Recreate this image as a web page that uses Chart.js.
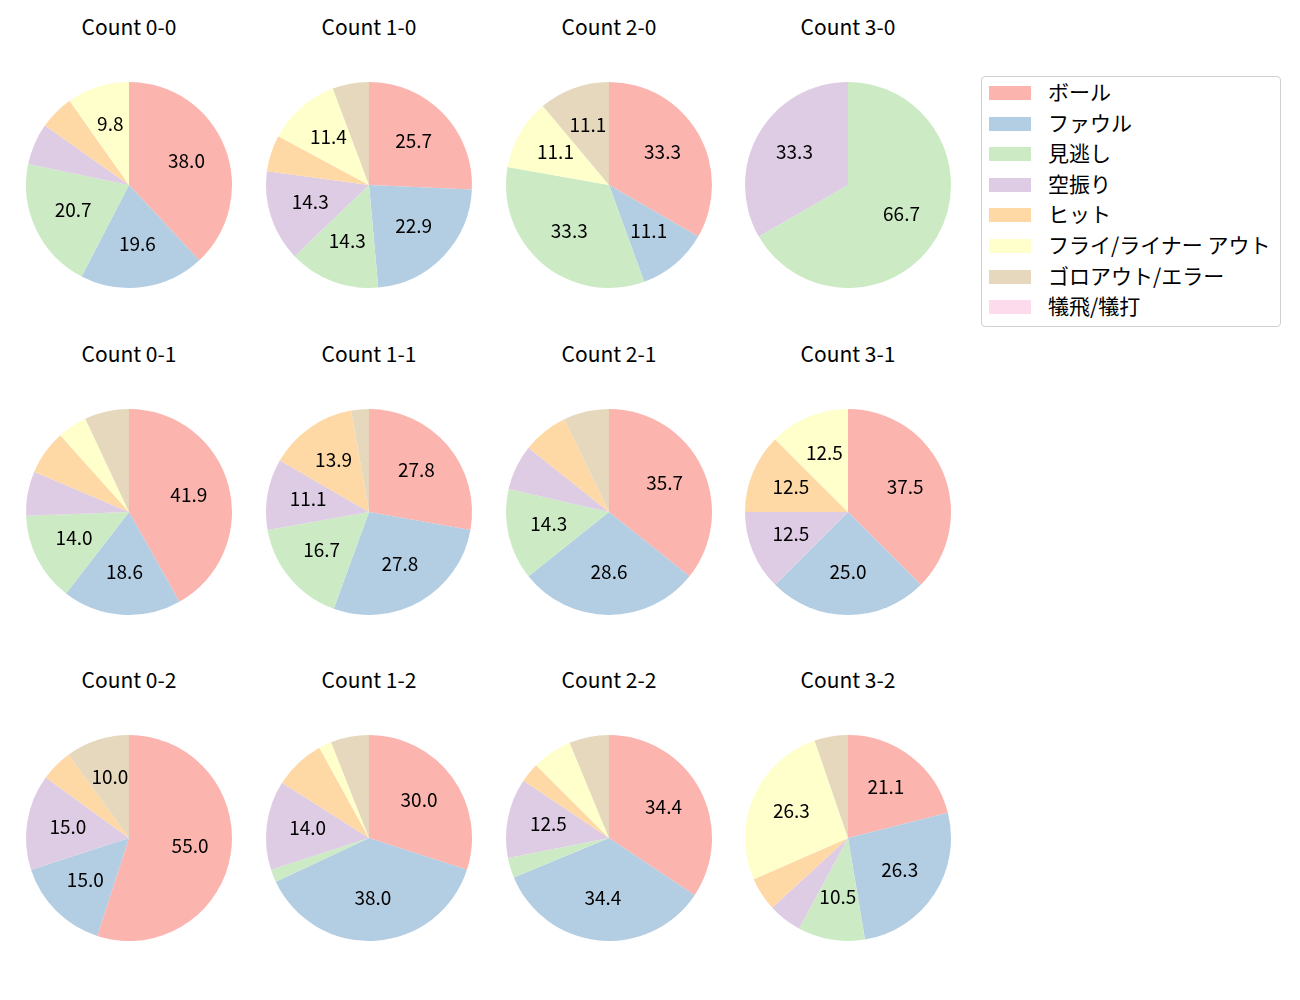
<!DOCTYPE html>
<html>
<head>
<meta charset="utf-8">
<script src="https://cdn.jsdelivr.net/npm/chart.js@4.4.1/dist/chart.umd.min.js"></script>
<style>
  body { margin: 0; background: #fff; font-family: "Noto Sans CJK JP", "DejaVu Sans", sans-serif; }
  #stage { position: relative; width: 1300px; height: 1000px; }
  .pie { position: absolute; width: 220px; height: 220px; }
  .title { position: absolute; width: 240px; text-align: center; font-size: 21px; line-height: 22px; color: #000; }
  #legend { position: absolute; left: 981px; top: 76px; width: 298px; height: 249px;
            border: 1px solid #d0d0d0; border-radius: 4px; }
  .item { position: absolute; left: 7px; height: 20px; font-size: 21px; line-height: 20px; color: #000; white-space: nowrap; }
  .swatch { position: absolute; left: 0; top: 5px; width: 42px; height: 14px; }
  .label { position: absolute; left: 59px; top: 0; }
</style>
</head>
<body>
<div id="stage"><div id="legend"></div></div>
<script>
// Pitch-result categories and their colours (Pastel1)
const categories = ['ボール', 'ファウル', '見逃し', '空振り', 'ヒット', 'フライ/ライナー アウト', 'ゴロアウト/エラー', '犠飛/犠打'];
const colors = ['#fbb4ae', '#b3cde3', '#ccebc5', '#decbe4', '#fed9a6', '#ffffcc', '#e5d8bd', '#fddaec'];

// Ball-strike counts, one pie each
const counts = ['0-0', '1-0', '2-0', '3-0', '0-1', '1-1', '2-1', '3-1', '0-2', '1-2', '2-2', '3-2'];

// Number of pitches per category for each count (same order as counts)
const ball      = [35, 9, 3, 0, 18, 10, 10, 3, 11, 15, 11, 4];
const foul      = [18, 8, 1, 0,  8, 10,  8, 2,  3, 19, 11, 5];
const called    = [19, 5, 3, 2,  6,  6,  4, 0,  0,  1,  1, 2];
const swinging  = [ 6, 5, 0, 1,  3,  4,  2, 1,  3,  7,  4, 1];
const hit       = [ 5, 2, 0, 0,  3,  5,  2, 1,  1,  4,  1, 1];
const flyOut    = [ 9, 4, 1, 0,  2,  0,  0, 1,  0,  1,  2, 5];
const groundOut = [ 0, 2, 1, 0,  3,  1,  2, 0,  2,  3,  2, 1];
const sacrifice = [ 0, 0, 0, 0,  0,  0,  0, 0,  0,  0,  0, 0];

const series = [ball, foul, called, swinging, hit, flyOut, groundOut, sacrifice];

// Grid geometry
const colX = [129, 369, 609, 848];
const rowY = [185, 512, 838];

// Draw percentage labels at 0.6 r for slices of at least 9 %
const pctLabels = {
  id: 'pctLabels',
  afterDatasetsDraw(chart) {
    const ctx = chart.ctx;
    const ds = chart.data.datasets[0];
    const total = ds.data.reduce((a, b) => a + b, 0);
    ctx.save();
    ctx.font = '19px "Noto Sans CJK JP", "DejaVu Sans", sans-serif';
    ctx.fillStyle = '#000';
    ctx.textAlign = 'center';
    ctx.textBaseline = 'middle';
    chart.getDatasetMeta(0).data.forEach((arc, i) => {
      const pct = ds.data[i] / total * 100;
      if (pct < 9) return;
      const mid = (arc.startAngle + arc.endAngle) / 2;
      const r = arc.outerRadius * 0.6;
      ctx.fillText(pct.toFixed(1), arc.x + Math.cos(mid) * r, arc.y + Math.sin(mid) * r - 2);
    });
    ctx.restore();
  }
};

const stage = document.getElementById('stage');

counts.forEach((label, k) => {
  const cx = colX[k % 4];
  const cy = rowY[Math.floor(k / 4)];

  const title = document.createElement('div');
  title.className = 'title';
  title.style.left = (cx - 120) + 'px';
  title.style.top = (cy - 170) + 'px';
  title.textContent = 'Count ' + label;
  stage.appendChild(title);

  const box = document.createElement('div');
  box.className = 'pie';
  box.style.left = (cx - 110) + 'px';
  box.style.top = (cy - 110) + 'px';
  const canvas = document.createElement('canvas');
  box.appendChild(canvas);
  stage.appendChild(box);

  new Chart(canvas, {
    type: 'pie',
    data: {
      labels: categories,
      datasets: [{
        data: series.map(s => s[k]),
        backgroundColor: colors,
        borderWidth: 0,
      }],
    },
    options: {
      responsive: true,
      maintainAspectRatio: false,
      animation: false,
      layout: { padding: 7 },
      plugins: {
        legend: { display: false },
        tooltip: { enabled: false },
      },
    },
    plugins: [pctLabels],
  });
});

// Legend
const legend = document.getElementById('legend');
categories.forEach((name, i) => {
  const item = document.createElement('div');
  item.className = 'item';
  item.style.top = (4 + i * 30.6) + 'px';
  item.innerHTML = `<span class="swatch" style="background:${colors[i]}"></span><span class="label">${name}</span>`;
  legend.appendChild(item);
});
</script>
</body>
</html>
